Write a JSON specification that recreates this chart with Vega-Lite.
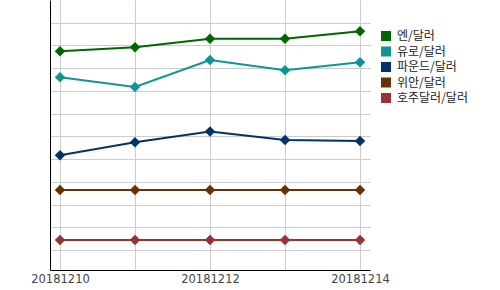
{
  "$schema": "https://vega.github.io/schema/vega-lite/v6.json",
  "width": 320,
  "height": 270,
  "autosize": {"type": "none"},
  "padding": {"left": 50, "top": 0, "right": 130, "bottom": 20},
  "background": "white",
  "config": {
    "view": {"stroke": null},
    "axis": {"gridColor": "#cccccc", "gridWidth": 1, "domainColor": "#000000", "domainWidth": 1}
  },
  "data": {
    "values": [
      {"date": "20181210", "series": "엔/달러", "value": 9.74},
      {"date": "20181211", "series": "엔/달러", "value": 9.92},
      {"date": "20181212", "series": "엔/달러", "value": 10.30},
      {"date": "20181213", "series": "엔/달러", "value": 10.30},
      {"date": "20181214", "series": "엔/달러", "value": 10.62},
      {"date": "20181210", "series": "유로/달러", "value": 8.60},
      {"date": "20181211", "series": "유로/달러", "value": 8.17},
      {"date": "20181212", "series": "유로/달러", "value": 9.36},
      {"date": "20181213", "series": "유로/달러", "value": 8.91},
      {"date": "20181214", "series": "유로/달러", "value": 9.26},
      {"date": "20181210", "series": "파운드/달러", "value": 5.17},
      {"date": "20181211", "series": "파운드/달러", "value": 5.74},
      {"date": "20181212", "series": "파운드/달러", "value": 6.21},
      {"date": "20181213", "series": "파운드/달러", "value": 5.84},
      {"date": "20181214", "series": "파운드/달러", "value": 5.80},
      {"date": "20181210", "series": "위안/달러", "value": 3.64},
      {"date": "20181211", "series": "위안/달러", "value": 3.64},
      {"date": "20181212", "series": "위안/달러", "value": 3.64},
      {"date": "20181213", "series": "위안/달러", "value": 3.64},
      {"date": "20181214", "series": "위안/달러", "value": 3.64},
      {"date": "20181210", "series": "호주달러/달러", "value": 1.44},
      {"date": "20181211", "series": "호주달러/달러", "value": 1.44},
      {"date": "20181212", "series": "호주달러/달러", "value": 1.44},
      {"date": "20181213", "series": "호주달러/달러", "value": 1.44},
      {"date": "20181214", "series": "호주달러/달러", "value": 1.44}
    ]
  },
  "mark": {
    "type": "line",
    "strokeWidth": 2,
    "point": {"shape": "diamond", "size": 110, "filled": true, "opacity": 1}
  },
  "encoding": {
    "x": {
      "field": "date",
      "type": "ordinal",
      "scale": {"type": "point", "padding": 0.1333},
      "axis": {
        "title": null,
        "labelAngle": 0,
        "ticks": false,
        "grid": true,
        "labelPadding": 3,
        "labelFont": "DejaVu Sans",
        "labelFontSize": 11.5,
        "labelColor": "#444444",
        "labelOverlap": false,
        "labelExpr": "indexof(['20181210','20181212','20181214'], datum.label) >= 0 ? datum.label : ''"
      }
    },
    "y": {
      "field": "value",
      "type": "quantitative",
      "scale": {"domain": [0.12, 12], "nice": false, "zero": false},
      "axis": {
        "title": null,
        "labels": false,
        "ticks": false,
        "grid": true,
        "values": [1, 2, 3, 4, 5, 6, 7, 8, 9, 10, 11]
      }
    },
    "color": {
      "field": "series",
      "type": "nominal",
      "sort": ["엔/달러", "유로/달러", "파운드/달러", "위안/달러", "호주달러/달러"],
      "scale": {
        "domain": ["엔/달러", "유로/달러", "파운드/달러", "위안/달러", "호주달러/달러"],
        "range": ["#006600", "#109595", "#003366", "#663300", "#993333"]
      },
      "legend": {
        "title": null,
        "orient": "none",
        "legendX": 330,
        "legendY": 30,
        "padding": 0,
        "symbolType": "square",
        "symbolSize": 100,
        "symbolStrokeWidth": 0,
        "symbolOpacity": 1,
        "labelFont": "Noto Sans CJK KR",
        "labelFontSize": 12,
        "labelColor": "#222222",
        "labelOffset": 5,
        "rowPadding": 3.5
      }
    }
  }
}
